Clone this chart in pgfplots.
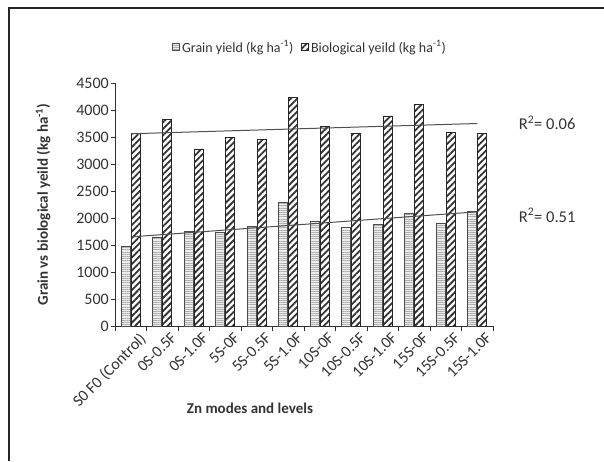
\documentclass[border=0pt]{standalone}
\usepackage{fontspec}
\setmainfont{Carlito}
\usepackage{pgfplots}
\pgfplotsset{compat=1.18}
\usetikzlibrary{patterns.meta}
\definecolor{txt}{HTML}{333333}
\definecolor{axc}{HTML}{303030}
\begin{document}
\begin{tikzpicture}
\useasboundingbox (0pt,0pt) rectangle (604pt,461pt);
\draw[line width=1.6pt, black!85] (9pt,0pt) -- (9pt,453pt) -- (604pt,453pt);
\begin{axis}[
  at={(115pt,135pt)}, anchor=south west, scale only axis,
  width=378pt, height=243pt,
  xmin=0.5, xmax=12.5, ymin=0, ymax=4500,
  ytick={0,500,...,4500},
  xtick={1,...,12},
  xticklabels={S0 F0 (Control),0S-0.5F,0S-1.0F,5S-0F,5S-0.5F,5S-1.0F,10S-0F,10S-0.5F,10S-1.0F,15S-0F,15S-0.5F,15S-1.0F},
  minor xtick={0.5,1.5,...,12.5},
  axis x line=bottom, axis y line=left,
  axis line style={-, axc, line width=0.9pt},
  tick align=outside,
  major x tick style={draw=none},
  minor x tick style={axc, line width=0.8pt},
  y tick style={axc, line width=0.8pt},
  major tick length=4pt, minor tick length=5pt,
  /pgf/number format/assume math mode=true,
  scaled y ticks=false,
  y tick label style={font=\fontsize{16}{18}\selectfont, text=txt, /pgf/number format/1000 sep={}, inner sep=2pt},
  x tick label style={font=\fontsize{16}{18}\selectfont, text=txt, rotate=45, anchor=north east, inner sep=0.5pt, yshift=-6pt, xshift=5pt},
  xlabel={\textbf{Zn modes and levels}},
  xlabel style={font=\fontsize{15}{17}\selectfont, text=txt, at={(rel axis cs:0.357,-0.337)}, anchor=center},
  ylabel={\textbf{Grain vs biological yeild (kg ha\textsuperscript{-1})}},
  ylabel style={font=\fontsize{15}{17}\selectfont, text=txt, at={(rel axis cs:-0.19,0.5)}, anchor=center},
  ybar=1pt, bar width=9pt,
  clip=false,
  legend columns=2,
  legend style={draw=none, fill=none, at={(rel axis cs:0.516,1.148)}, anchor=center, font=\fontsize{14}{16}\selectfont, text=txt, /tikz/every even column/.append style={column sep=6pt}},
  area legend,
  legend image code/.code={\draw[#1] (0cm,-0.12cm) rectangle (0.25cm,0.14cm);},
]
\addplot[draw=gray!60!black, line width=0.6pt, fill=gray!15, postaction={pattern={Lines[angle=0,distance=2.2pt,line width=0.9pt]}, pattern color=gray!65}]
  coordinates {(1,1480) (2,1650) (3,1750) (4,1730) (5,1850) (6,2290) (7,1940) (8,1830) (9,1880) (10,2090) (11,1910) (12,2120)};
\addlegendentry{Grain yield (kg ha\textsuperscript{-1})}
\addplot[draw=black!85, line width=0.6pt, fill=white, postaction={pattern={Lines[angle=45,distance=4.6pt,line width=1.8pt]}, pattern color=black!80}]
  coordinates {(1,3570) (2,3820) (3,3280) (4,3500) (5,3450) (6,4240) (7,3690) (8,3570) (9,3890) (10,4100) (11,3590) (12,3570)};
\addlegendentry{Biological yeild (kg ha\textsuperscript{-1})}
\addplot[sharp plot, axc!85, line width=1pt, forget plot] coordinates {(1,1650) (12,2115)};
\addplot[sharp plot, axc!85, line width=1pt, forget plot] coordinates {(1,3560) (12,3750)};
\node[font=\fontsize{16.5}{18}\selectfont, text=txt, anchor=center] at (axis cs:14.22,3760) {R\textsuperscript{2}= 0.06};
\node[font=\fontsize{16.5}{18}\selectfont, text=txt, anchor=center] at (axis cs:14.22,2050) {R\textsuperscript{2}= 0.51};
\end{axis}
\end{tikzpicture}
\end{document}
